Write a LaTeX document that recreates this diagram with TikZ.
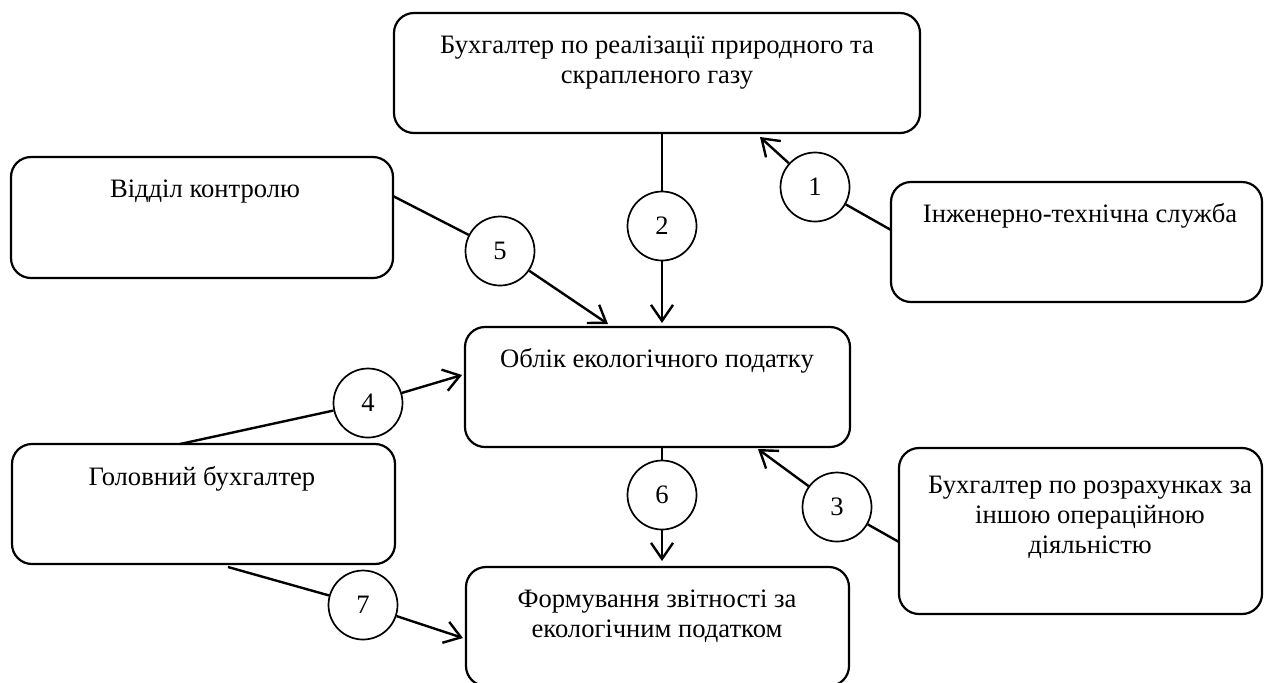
\documentclass[tikz,border=0pt]{standalone}
\usepackage{fontspec}
\setmainfont{Liberation Serif}
\usetikzlibrary{arrows.meta,fit}
\begin{document}
\begin{tikzpicture}[x=0.5pt,y=-0.5pt,
  box/.style={draw, line width=1.1pt, rounded corners=10pt, inner sep=0pt},
  txt/.style={align=center, font=\fontsize{13.3}{15}\selectfont, inner sep=0pt},
  num/.style={draw, circle, line width=0.85pt, minimum size=34.5pt, inner sep=0pt, font=\fontsize{13.3}{15}\selectfont},
  link/.style={line width=1.2pt},
  arr/.style={line width=1.2pt, -{Straight Barb[length=8pt,width=11pt,line width=1.2pt]}}]
\useasboundingbox (0,0) rectangle (1267,682);
% boxes
\node[box, fit={(394,13) (920,133)}] (b1) {};
\node[box, fit={(11,157) (393,278)}] (b5) {};
\node[box, fit={(891,182) (1262,302)}] (bi) {};
\node[box, fit={(465,327) (850,447)}] (bo) {};
\node[box, fit={(12,444) (395,564)}] (bg) {};
\node[box, fit={(899,448) (1262,614)}] (b3) {};
\node[box, fit={(466,567) (849,686)}] (bf) {};
% texts (anchor base = baseline of the last line)
\node[txt, anchor=base] (t1) at (657,83) {Бухгалтер по реалізації природного та\\скрапленого газу};
\node[txt, anchor=base] (t5) at (205,197) {Відділ контролю};
\node[txt, anchor=base] (ti) at (1080,222) {Інженерно-технічна служба};
\node[txt, anchor=base] (to) at (657,367) {Облік екологічного податку};
\node[txt, anchor=base] (tg) at (202,485) {Головний бухгалтер};
\node[txt, anchor=base] (t3) at (1090,553) {Бухгалтер по розрахунках за\\іншою операційною\\діяльністю};
\node[txt, anchor=base] (tf) at (657,637) {Формування звітності за\\екологічним податком};
% circles
\node[num] (c1) at (815,187) {1};
\node[num] (c2) at (662,226) {2};
\node[num] (c3) at (837,507) {3};
\node[num] (c4) at (368,403) {4};
\node[num] (c5) at (500,251) {5};
\node[num] (c6) at (662,495) {6};
\node[num] (c7) at (363,605) {7};
% connector end points
\coordinate (s1) at (891,230);
\coordinate (e1) at (760,137);
\coordinate (s2) at (662,133);
\coordinate (e2) at (662,323);
\coordinate (s3) at (899,542);
\coordinate (e3) at (758,449);
\coordinate (s4) at (180,444);
\coordinate (e4) at (462,375);
\coordinate (s5) at (393,196);
\coordinate (e5) at (608,324);
\coordinate (s6) at (662,447);
\coordinate (e6) at (662,561);
\coordinate (s7) at (228,567);
\coordinate (e7) at (463,638);
% connectors
\draw[link] (s1) -- (c1); \draw[arr] (c1) -- (e1);
\draw[link] (s2) -- (c2); \draw[arr] (c2) -- (e2);
\draw[link] (s3) -- (c3); \draw[arr] (c3) -- (e3);
\draw[link] (s4) -- (c4); \draw[arr] (c4) -- (e4);
\draw[link] (s5) -- (c5); \draw[arr] (c5) -- (e5);
\draw[link] (s6) -- (c6); \draw[arr] (c6) -- (e6);
\draw[link] (s7) -- (c7); \draw[arr] (c7) -- (e7);
\end{tikzpicture}
\end{document}
